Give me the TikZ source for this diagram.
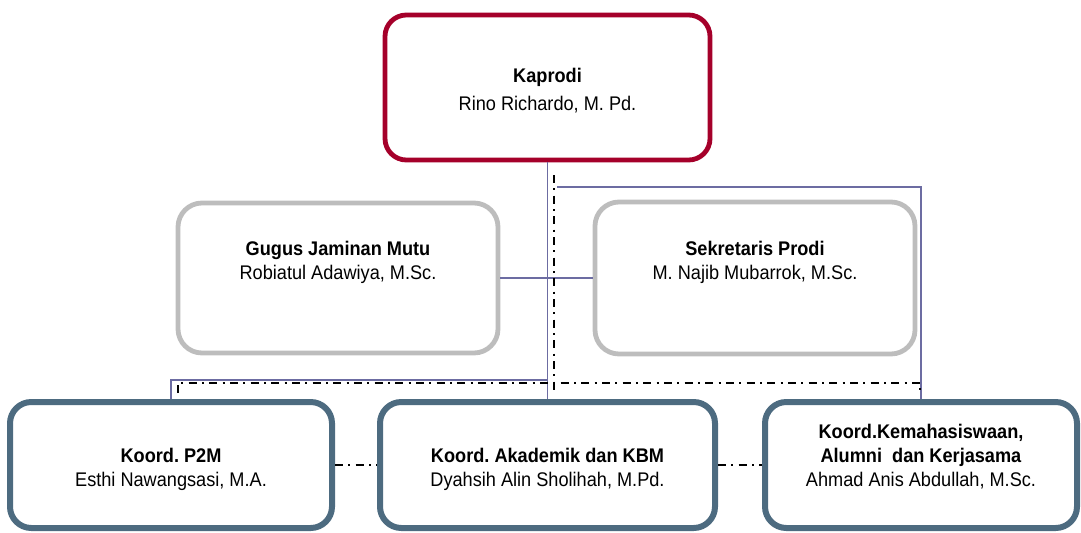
\documentclass[tikz,border=0pt]{standalone}
\usepackage{fontspec}
\setmainfont[FakeStretch=0.92]{Liberation Sans}
\usetikzlibrary{positioning}
\frenchspacing

\definecolor{kapred}{HTML}{A5002A}
\definecolor{midgray}{HTML}{BDBDBD}
\definecolor{slate}{HTML}{4D6B80}
\definecolor{linkblue}{HTML}{6C6CA2}

\begin{document}
\begin{tikzpicture}[x=0.75pt,y=-0.75pt,
    box/.style={rounded corners=16pt,fill=white},
    topbox/.style={box,draw=kapred,line width=3.6pt},
    midbox/.style={box,draw=midgray,line width=3.6pt,rounded corners=18pt},
    lowbox/.style={box,draw=slate,line width=4.5pt},
    txt/.style={align=center,font=\fontsize{14.8}{18}\selectfont},
    conn/.style={linkblue,line width=1.2pt},
    dd/.style={black,line width=1.8pt,dash pattern=on 6pt off 4pt on 1.5pt off 4pt}]

\useasboundingbox (0,0) rectangle (1081,532);

% boxes
\node[topbox,minimum width=325*0.75pt,minimum height=145*0.75pt] (kap) at (547.5,87.5) {};
\node[midbox,minimum width=320*0.75pt,minimum height=150*0.75pt] (gjm) at (338,278) {};
\node[midbox,minimum width=320*0.75pt,minimum height=152*0.75pt] (sek) at (755,278) {};
\node[lowbox,minimum width=322*0.75pt,minimum height=126*0.75pt] (p2m) at (171,465) {};
\node[lowbox,minimum width=335*0.75pt,minimum height=126*0.75pt] (akd) at (547.5,465) {};
\node[lowbox,minimum width=312*0.75pt,minimum height=126*0.75pt] (kem) at (921,465) {};

% connectors
\coordinate (bus) at (548,380);
\coordinate (tap) at (557,187);
\draw[conn] (kap.south) -- (akd.north);
\draw[conn] (gjm.east) -- (sek.west);
\draw[conn] (p2m.north) |- (bus);
\draw[conn] (tap) -| (kem.north);

\coordinate (dtop) at (554,175);
\coordinate (dbot) at (554,394);
\coordinate (dl) at (178,383);
\coordinate (dr) at (920,383);
\draw[dd] (dtop) -- (dbot);
\draw[dd] (dl) ++(0,10) -- (dl) -- (dr) -- ++(0,10);
\draw[dd] (p2m.east) -- (akd.west);
\draw[dd] (akd.east) -- (kem.west);

% texts
\node[txt,font=\fontsize{14.8}{21}\selectfont] (kap-t) at ([yshift=-2.6pt]kap) {\textbf{Kaprodi}\\Rino Richardo, M. Pd.};
\node[txt] (gjm-t) at ([yshift=12pt]gjm) {\textbf{Gugus Jaminan Mutu}\\Robiatul Adawiya, M.Sc.};
\node[txt] (sek-t) at ([yshift=12pt]sek) {\textbf{Sekretaris Prodi}\\M. Najib Mubarrok, M.Sc.};
\node[txt] (p2m-t) at ([yshift=-3pt]p2m) {\textbf{Koord. P2M}\\Esthi Nawangsasi, M.A.};
\node[txt] (akd-t) at ([yshift=-3pt]akd) {\textbf{Koord. Akademik dan KBM}\\Dyahsih Alin Sholihah, M.Pd.};
\node[txt] (kem-t) at ([yshift=6pt]kem) {\textbf{Koord.Kemahasiswaan,}\\\textbf{Alumni\ \ dan Kerjasama}\\Ahmad Anis Abdullah, M.Sc.};

\end{tikzpicture}
\end{document}
